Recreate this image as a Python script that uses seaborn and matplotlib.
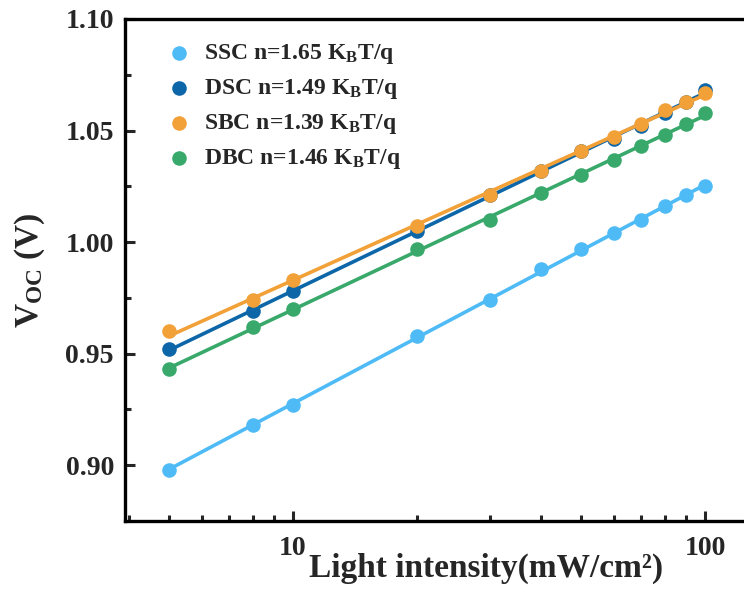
import numpy as np
import pandas as pd
import matplotlib
matplotlib.use("Agg")
import matplotlib.pyplot as plt
from matplotlib.ticker import MultipleLocator, LogLocator, FixedLocator, FixedFormatter, NullFormatter
import seaborn as sns

# ---- data ----
intensity = [5, 8, 10, 20, 30, 40, 50, 60, 70, 80, 90, 100]
voc_ssc = [0.898, 0.918, 0.927, 0.958, 0.974, 0.988, 0.997, 1.004, 1.010, 1.016, 1.021, 1.025]
voc_dsc = [0.952, 0.969, 0.978, 1.005, 1.021, 1.032, 1.041, 1.046, 1.052, 1.058, 1.063, 1.068]
voc_sbc = [0.960, 0.974, 0.983, 1.007, 1.021, 1.032, 1.041, 1.047, 1.053, 1.059, 1.063, 1.067]
voc_dbc = [0.943, 0.962, 0.970, 0.997, 1.010, 1.022, 1.030, 1.037, 1.043, 1.048, 1.053, 1.058]
series_names = ["SSC", "DSC", "SBC", "DBC"]
ideality = ["1.65", "1.49", "1.39", "1.46"]
x_ticks = [10, 100]
x_ticklabels = ["10", "100"]
y_ticks = [0.90, 0.95, 1.00, 1.05, 1.10]

colors = ["#4FBBF6", "#0D66A8", "#F2A138", "#39A96B"]

sns.set_theme(style="ticks")
plt.rcParams["font.family"] = ["Liberation Serif", "DejaVu Serif"]
plt.rcParams["font.weight"] = "bold"
plt.rcParams["mathtext.fontset"] = "custom"
plt.rcParams["mathtext.rm"] = "Liberation Serif:bold"
plt.rcParams["mathtext.bf"] = "Liberation Serif:bold"
plt.rcParams["mathtext.it"] = "Liberation Serif:bold"

fig = plt.figure(figsize=(7.44, 5.95), dpi=100)
ax = fig.add_axes([125 / 744, 1 - 521 / 595, (760 - 125) / 744, (521 - 19) / 595])

all_vals = [voc_ssc, voc_dsc, voc_sbc, voc_dbc]
for name, n, vals, c in zip(series_names, ideality, all_vals, colors):
    df = pd.DataFrame({"I": intensity, "V": vals})
    sns.regplot(data=df, x="I", y="V", ax=ax, logx=True, ci=None, color=c,
                label=f"{name} n={n} K$_\\mathbf{{B}}$T/q",
                scatter_kws=dict(s=110, alpha=1, linewidths=0, zorder=3),
                line_kws=dict(lw=2.6, zorder=3))

ax.set_xscale("log")
ax.set_xlim(3.91, 136)
ax.set_ylim(0.875, 1.10)

ax.xaxis.set_major_locator(FixedLocator(x_ticks))
ax.xaxis.set_major_formatter(FixedFormatter(x_ticklabels))
ax.xaxis.set_minor_locator(LogLocator(base=10, subs=np.arange(2, 10)))
ax.xaxis.set_minor_formatter(NullFormatter())
ax.yaxis.set_major_locator(FixedLocator(y_ticks))
ax.yaxis.set_major_formatter(matplotlib.ticker.FormatStrFormatter("%.2f"))
ax.yaxis.set_minor_locator(MultipleLocator(0.025))

ax.tick_params(which="both", direction="in", width=2.2, labelsize=20, top=False, right=False)
ax.tick_params(which="major", length=7)
ax.tick_params(axis="x", which="major", pad=11)
ax.tick_params(axis="y", which="major", pad=8)
ax.tick_params(which="minor", length=4)
for lab in ax.get_xticklabels() + ax.get_yticklabels():
    lab.set_fontweight("bold")

for s in ["left", "bottom", "top", "right"]:
    ax.spines[s].set_linewidth(2.4)
    ax.spines[s].set_color("black")

ax.set_xlabel("Light intensity(mW/cm²)", fontsize=24, fontweight="bold")
ax.xaxis.set_label_coords((486 - 125) / 635, -(553 - 521) / 502)
ax.set_ylabel("V$_\\mathbf{OC}$ (V)", fontsize=24, fontweight="bold", labelpad=13)

leg = ax.legend(loc="upper left", bbox_to_anchor=(0.033, 0.997), frameon=False,
                prop=dict(family="Liberation Serif", weight="bold", size=17),
                handletextpad=0.55, labelspacing=0.47, handlelength=1.0)

fig.savefig("out.png", dpi=100)
